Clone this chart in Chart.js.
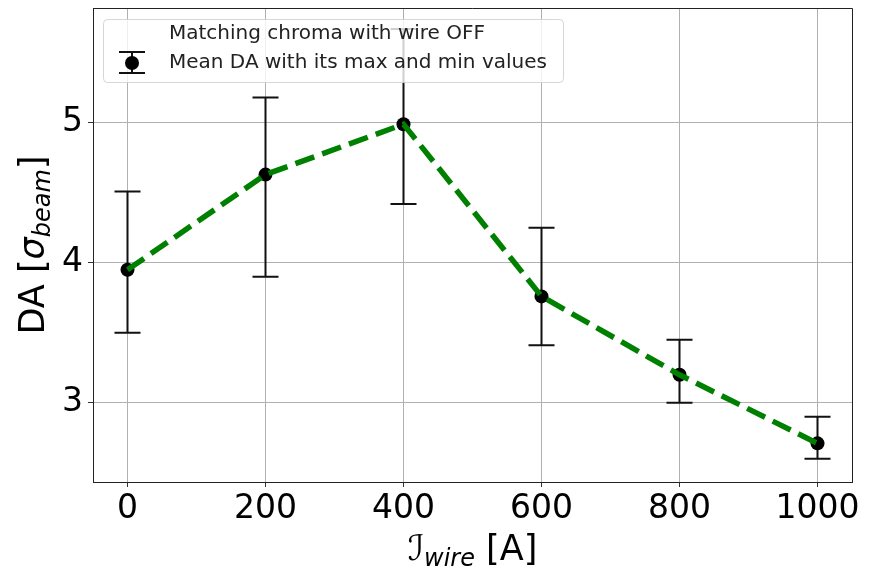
<!DOCTYPE html>
<html>
<head>
<meta charset="utf-8">
<script src="https://cdn.jsdelivr.net/npm/chart.js@4.4.1/dist/chart.umd.min.js"></script>
<style>
  body { margin: 0; background: #fff; }
  #wrap { width: 874px; height: 568px; }
</style>
</head>
<body>
<div id="wrap"><canvas id="myChart" width="874" height="568"></canvas></div>
<script>
// data
const currents = [0, 200, 400, 600, 800, 1000];
const meanDA = [3.95, 4.63, 4.99, 3.76, 3.20, 2.71];
const maxDA = [4.51, 5.18, 5.67, 4.25, 3.45, 2.90];
const minDA = [3.50, 3.90, 4.42, 3.41, 3.00, 2.60];
const xTicks = [0, 200, 400, 600, 800, 1000];
const yTicks = [3, 4, 5];
const legendLabels = ['Matching chroma with wire OFF', 'Mean DA with its max and min values'];

const FONT = "'DejaVu Sans', sans-serif";
const ctx = document.getElementById('myChart');

const points = currents.map((x, i) => ({ x: x, y: meanDA[i] }));

// error bars, drawn just before the black markers
const errorBars = {
    id: 'errorBars',
    beforeDatasetDraw(chart, args) {
        if (args.index !== 1) return;
        const c = chart.ctx;
        const xs = chart.scales.x, ys = chart.scales.y;
        c.save();
        c.strokeStyle = '#111';
        c.lineWidth = 2;
        currents.forEach((x, i) => {
            const px = xs.getPixelForValue(x);
            const top = ys.getPixelForValue(maxDA[i]);
            const bot = ys.getPixelForValue(minDA[i]);
            c.beginPath();
            c.moveTo(px, top); c.lineTo(px, bot);
            c.moveTo(px - 13, top); c.lineTo(px + 13, top);
            c.moveTo(px - 13, bot); c.lineTo(px + 13, bot);
            c.stroke();
        });
        c.restore();
    }
};

// draw text pieces with subscripts
function drawPieces(c, pieces, x, y) {
    let w = 0;
    pieces.forEach(p => { c.font = p.font; w += c.measureText(p.t).width; });
    let cx = x - w / 2;
    pieces.forEach(p => {
        c.font = p.font;
        c.fillText(p.t, cx, y + (p.dy || 0));
        cx += c.measureText(p.t).width;
    });
}

const extras = {
    id: 'extras',
    afterDraw(chart) {
        const c = chart.ctx;
        const area = chart.chartArea;
        c.save();

        // top and right frame
        c.strokeStyle = '#222';
        c.lineWidth = 1;
        c.beginPath();
        c.moveTo(area.left, area.top + 0.5); c.lineTo(area.right + 0.5, area.top + 0.5);
        c.lineTo(area.right + 0.5, area.bottom);
        c.stroke();

        c.fillStyle = '#000';
        c.textBaseline = 'alphabetic';

        // x axis title
        const big = '35px ' + FONT;
        const sub = 'italic 24px ' + FONT;
        drawPieces(c, [
            { t: 'ℐ', font: big },
            { t: 'wire', font: sub, dy: 6 },
            { t: ' [A]', font: big }
        ], (area.left + area.right) / 2, 560);

        // y axis title
        c.save();
        c.translate(44, (area.top + area.bottom) / 2);
        c.rotate(-Math.PI / 2);
        drawPieces(c, [
            { t: 'DA [', font: big },
            { t: 'σ', font: 'italic 35px ' + FONT },
            { t: 'beam', font: sub, dy: 6 },
            { t: ']', font: big }
        ], 0, 0);
        c.restore();

        // legend box
        const lx = 103, ly = 19, lw = 460, lh = 63;
        c.fillStyle = 'rgba(255,255,255,0.8)';
        c.strokeStyle = 'rgba(204,204,204,0.8)';
        c.lineWidth = 1;
        c.beginPath();
        c.roundRect(lx + 0.5, ly + 0.5, lw, lh, 4);
        c.fill();
        c.stroke();

        c.fillStyle = '#222';
        c.font = '20px ' + FONT;
        c.textBaseline = 'middle';
        c.fillText(legendLabels[0], 169, 34);
        c.fillText(legendLabels[1], 169, 63);

        // errorbar handle
        c.strokeStyle = '#111';
        c.lineWidth = 2;
        c.beginPath();
        c.moveTo(132, 52); c.lineTo(132, 73);
        c.moveTo(119, 52); c.lineTo(145, 52);
        c.moveTo(119, 73); c.lineTo(145, 73);
        c.stroke();
        c.fillStyle = '#000';
        c.beginPath();
        c.arc(132, 63, 7, 0, Math.PI * 2);
        c.fill();
        c.restore();
    }
};

new Chart(ctx, {
    type: 'line',
    data: {
        datasets: [{
            label: legendLabels[0],
            data: points,
            borderColor: '#008000',
            borderWidth: 5.5,
            borderDash: [20, 8.5],
            pointRadius: 0,
            fill: false,
            tension: 0
        }, {
            label: legendLabels[1],
            data: points,
            showLine: false,
            pointRadius: 7,
            pointBorderWidth: 0,
            pointBackgroundColor: '#000',
            pointBorderColor: '#000'
        }]
    },
    options: {
        responsive: false,
        animation: false,
        layout: { padding: { top: 8, right: 22, left: 0, bottom: 0 } },
        plugins: {
            legend: { display: false },
            tooltip: { enabled: false }
        },
        scales: {
            x: {
                type: 'linear',
                min: -50,
                max: 1050,
                afterBuildTicks: s => { s.ticks = xTicks.map(v => ({ value: v })); },
                afterFit: s => { s.height = 86; s.paddingLeft = 0; s.paddingRight = 0; },
                grid: { color: '#b0b0b0', lineWidth: 1, tickLength: 5, tickColor: '#333' },
                border: { color: '#222', width: 1 },
                ticks: {
                    color: '#000', font: { family: FONT, size: 33 }, padding: 3, maxRotation: 0,
                    callback: v => String(v)
                }
            },
            y: {
                type: 'linear',
                min: 2.434,
                max: 5.82,
                afterBuildTicks: s => { s.ticks = yTicks.map(v => ({ value: v })); },
                afterFit: s => { s.width = 93; s.paddingTop = 0; s.paddingBottom = 0; },
                grid: { color: '#b0b0b0', lineWidth: 1, tickLength: 5, tickColor: '#333' },
                border: { color: '#222', width: 1 },
                ticks: { color: '#000', font: { family: FONT, size: 33 }, padding: 5 }
            }
        }
    },
    plugins: [errorBars, extras]
});
</script>
</body>
</html>
